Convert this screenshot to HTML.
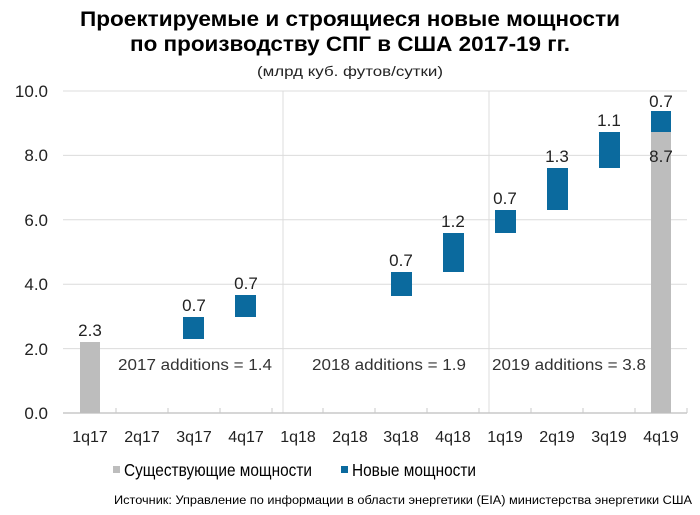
<!DOCTYPE html>
<html><head><meta charset="utf-8"><style>
html,body{margin:0;padding:0;background:#fff;}
svg{display:block;}
</style></head><body>
<svg width="700" height="515" viewBox="0 0 700 515" xmlns="http://www.w3.org/2000/svg" font-family="Liberation Sans, sans-serif">
<text x="350" y="26" text-anchor="middle" font-size="21" font-weight="bold" fill="#000" textLength="540" lengthAdjust="spacingAndGlyphs">Проектируемые и строящиеся новые мощности</text>
<text x="350" y="51" text-anchor="middle" font-size="21" font-weight="bold" fill="#000" textLength="440" lengthAdjust="spacingAndGlyphs">по производству СПГ в США 2017-19 гг.</text>
<text x="350" y="76" text-anchor="middle" font-size="13.5" fill="#222" textLength="186" lengthAdjust="spacingAndGlyphs">(млрд куб. футов/сутки)</text>
<g stroke="#dcdcdc" stroke-width="1">
<line x1="63" y1="91" x2="687" y2="91"/>
<line x1="63" y1="155.4" x2="687" y2="155.4"/>
<line x1="63" y1="219.8" x2="687" y2="219.8"/>
<line x1="63" y1="284.2" x2="687" y2="284.2"/>
<line x1="63" y1="348.6" x2="687" y2="348.6"/>
<line x1="283" y1="91" x2="283" y2="413"/>
<line x1="489" y1="91" x2="489" y2="413"/>
</g>
<line x1="63" y1="413" x2="687" y2="413" stroke="#c8c8c8" stroke-width="1.5"/>
<g stroke="#c8c8c8" stroke-width="1">
<line x1="116" y1="408" x2="116" y2="413"/><line x1="168" y1="408" x2="168" y2="413"/><line x1="220" y1="408" x2="220" y2="413"/><line x1="272" y1="408" x2="272" y2="413"/><line x1="323" y1="408" x2="323" y2="413"/><line x1="375" y1="408" x2="375" y2="413"/><line x1="427" y1="408" x2="427" y2="413"/><line x1="479" y1="408" x2="479" y2="413"/><line x1="531" y1="408" x2="531" y2="413"/><line x1="583" y1="408" x2="583" y2="413"/><line x1="635" y1="408" x2="635" y2="413"/><line x1="687" y1="408" x2="687" y2="413"/>
</g>
<g font-size="17" fill="#222" text-anchor="end">
<text x="48" y="97">10.0</text><text x="48" y="161">8.0</text><text x="48" y="226">6.0</text><text x="48" y="290">4.0</text><text x="48" y="355">2.0</text><text x="48" y="419">0.0</text>
</g>
<g font-size="16" fill="#222" text-anchor="middle">
<text x="90" y="442">1q17</text><text x="142" y="442">2q17</text><text x="194" y="442">3q17</text><text x="246" y="442">4q17</text><text x="298" y="442">1q18</text><text x="350" y="442">2q18</text><text x="401" y="442">3q18</text><text x="453" y="442">4q18</text><text x="505" y="442">1q19</text><text x="557" y="442">2q19</text><text x="609" y="442">3q19</text><text x="661" y="442">4q19</text>
</g>
<rect x="80" y="342" width="20" height="71" fill="#bdbdbd"/>
<rect x="651" y="132" width="20" height="281" fill="#bdbdbd"/>
<g fill="#0b6a9e">
<rect x="183" y="317" width="21" height="22"/>
<rect x="235" y="295" width="21" height="22"/>
<rect x="391" y="272" width="21" height="24"/>
<rect x="443" y="233" width="21" height="39"/>
<rect x="495" y="210" width="21" height="23"/>
<rect x="547" y="168" width="21" height="42"/>
<rect x="599" y="132" width="21" height="36"/>
<rect x="651" y="111" width="20" height="21"/>
</g>
<g font-size="17" fill="#222" text-anchor="middle">
<text x="90" y="336">2.3</text>
<text x="194" y="311">0.7</text>
<text x="246" y="289">0.7</text>
<text x="401" y="266">0.7</text>
<text x="453" y="227">1.2</text>
<text x="505" y="204">0.7</text>
<text x="557" y="162">1.3</text>
<text x="609" y="126">1.1</text>
<text x="661" y="107">0.7</text>
<text x="661" y="162">8.7</text>
</g>
<g font-size="15.5" fill="#333" text-anchor="middle">
<text x="195" y="370" textLength="154" lengthAdjust="spacingAndGlyphs">2017 additions = 1.4</text>
<text x="389" y="370" textLength="154" lengthAdjust="spacingAndGlyphs">2018 additions = 1.9</text>
<text x="569" y="370" textLength="154" lengthAdjust="spacingAndGlyphs">2019 additions = 3.8</text>
</g>
<rect x="113" y="466" width="7" height="7" fill="#bdbdbd"/>
<text x="124" y="476" font-size="17.5" fill="#000" textLength="188" lengthAdjust="spacingAndGlyphs">Существующие мощности</text>
<rect x="341" y="466" width="7" height="7" fill="#0b6a9e"/>
<text x="352" y="476" font-size="17.5" fill="#000" textLength="124" lengthAdjust="spacingAndGlyphs">Новые мощности</text>
<text x="114" y="504" font-size="11.5" fill="#000" textLength="578" lengthAdjust="spacingAndGlyphs">Источник: Управление по информации в области энергетики (EIA) министерства энергетики США</text>
</svg>
</body></html>
